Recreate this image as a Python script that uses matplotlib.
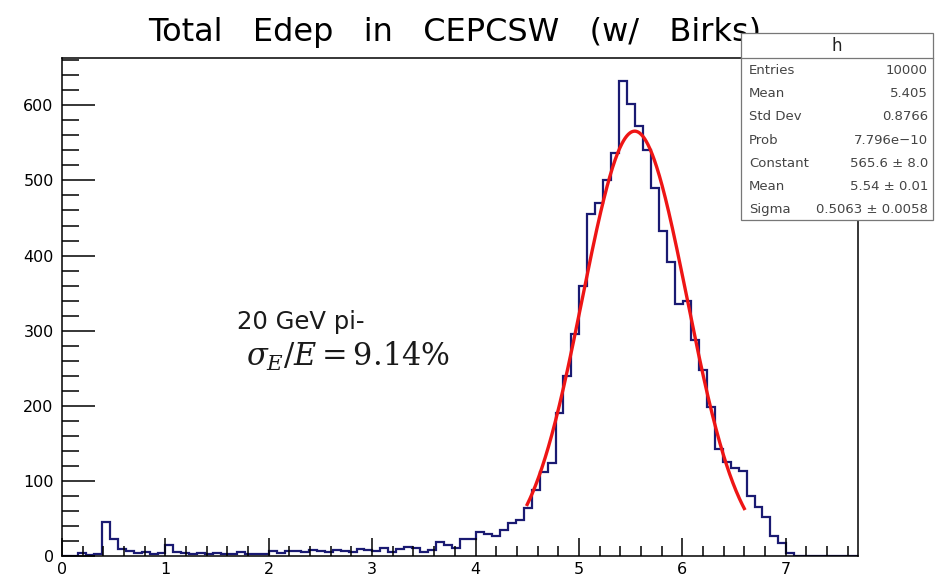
import numpy as np
import matplotlib
matplotlib.use('Agg')
import matplotlib.pyplot as plt
from matplotlib.ticker import MultipleLocator
from matplotlib.patches import Rectangle
from matplotlib.lines import Line2D

# ---------------- data ----------------
x_min, x_max = 0.0, 7.7
counts = [
    0, 0, 4, 1, 3, 45, 22, 9, 7, 4,
    5, 3, 4, 14, 5, 4, 3, 4, 3, 4,
    2, 3, 5, 2, 3, 2, 6, 4, 7, 6,
    5, 8, 6, 5, 8, 7, 5, 9, 8, 6,
    11, 5, 9, 12, 11, 5, 8, 18, 14, 10,
    22, 22, 32, 29, 27, 35, 44, 48, 64, 88,
    112, 124, 190, 240, 296, 360, 455, 470, 500, 536,
    632, 602, 572, 540, 490, 433, 392, 336, 340, 288,
    248, 198, 142, 125, 117, 113, 80, 65, 52, 27,
    17, 4, 0, 0, 0, 0, 0, 0, 0, 0,
]

# Gaussian fit parameters (from the stats box)
fit_const = 565.6
fit_mean = 5.54
fit_sigma = 0.5063
fit_lo, fit_hi = 4.5, 6.6

title = "Total   Edep   in   CEPCSW   (w/   Birks)"
stats_name = "h"
stats_labels = ["Entries", "Mean", "Std Dev", "Prob", "Constant", "Mean", "Sigma"]
stats_values = ["10000", "5.405", "0.8766", "7.796e\u221210",
                "565.6 \u00b1 8.0", "5.54 \u00b1 0.01", "0.5063 \u00b1 0.0058"]
note_line1 = "20 GeV pi-"
note_line2 = r"$\sigma_E/E = 9.14\%$"

xticks = [0, 1, 2, 3, 4, 5, 6, 7]
yticks = [0, 100, 200, 300, 400, 500, 600]

# ---------------- figure ----------------
W, H = 935, 579
fig = plt.figure(figsize=(W / 100, H / 100), dpi=100)
plt.rcParams['mathtext.fontset'] = 'dejavuserif'

ax_l, ax_r, ax_t, ax_b = 62, 858, 58, 556
ax = fig.add_axes([ax_l / W, 1 - ax_b / H, (ax_r - ax_l) / W, (ax_b - ax_t) / H])

edges = np.linspace(x_min, x_max, len(counts) + 1)
ax.stairs(counts, edges, color='#1a1a72', lw=1.6, baseline=0)

xf = np.linspace(fit_lo, fit_hi, 400)
yf = fit_const * np.exp(-0.5 * ((xf - fit_mean) / fit_sigma) ** 2)
ax.plot(xf, yf, color='#ee1515', lw=2.4)

ax.set_xlim(0, 7.7)
ax.set_ylim(0, 663)
ax.set_xticks(xticks)
ax.set_yticks(yticks)
ax.xaxis.set_minor_locator(MultipleLocator(0.2))
ax.yaxis.set_minor_locator(MultipleLocator(20))
ax.tick_params(axis='both', which='both', direction='in', top=False, right=False,
               colors='black', width=1.1)
ax.tick_params(axis='x', which='major', length=13, labelsize=11.5, pad=4)
ax.tick_params(axis='x', which='minor', length=7)
ax.tick_params(axis='y', which='major', length=24, labelsize=11.5, pad=6)
ax.tick_params(axis='y', which='minor', length=12)
for s in ax.spines.values():
    s.set_linewidth(1.1)
    s.set_color('black')

# title
fig.text(148 / W, 1 - 41 / H, title, ha='left', va='baseline',
         fontsize=23, family='DejaVu Sans', color='black', zorder=5)

# annotation
fig.text(237 / W, 1 - 322 / H, note_line1, ha='left', va='center',
         fontsize=17.5, family='DejaVu Sans', color='#1a1a1a', zorder=5)
fig.text(246 / W, 1 - 356 / H, note_line2, ha='left', va='center',
         fontsize=22, color='#1a1a1a', zorder=5)

# stats box
bx_l, bx_r, bx_t, bx_b = 741, 933, 33, 220
fig.patches.append(Rectangle((bx_l / W, 1 - bx_b / H), (bx_r - bx_l) / W, (bx_b - bx_t) / H,
                             transform=fig.transFigure, facecolor='white',
                             edgecolor='#777777', lw=0.9, zorder=10))
fig.lines.append(Line2D([bx_l / W, bx_r / W], [1 - 58 / H, 1 - 58 / H],
                        transform=fig.transFigure, color='#777777', lw=0.9, zorder=11))
fig.text((bx_l + bx_r) / 2 / W, 1 - 46 / H, stats_name, ha='center', va='center',
         fontsize=12, family='DejaVu Sans', color='#222222', zorder=12)
row_y0, row_dy = 70.5, 23.2
for i, (lab, val) in enumerate(zip(stats_labels, stats_values)):
    yy = 1 - (row_y0 + i * row_dy) / H
    fig.text(749 / W, yy, lab, ha='left', va='center', fontsize=9.5,
             family='DejaVu Sans', color='#444444', zorder=12)
    fig.text(928 / W, yy, val, ha='right', va='center', fontsize=9.5,
             family='DejaVu Sans', color='#444444', zorder=12)

fig.savefig('out.png', dpi=100)
